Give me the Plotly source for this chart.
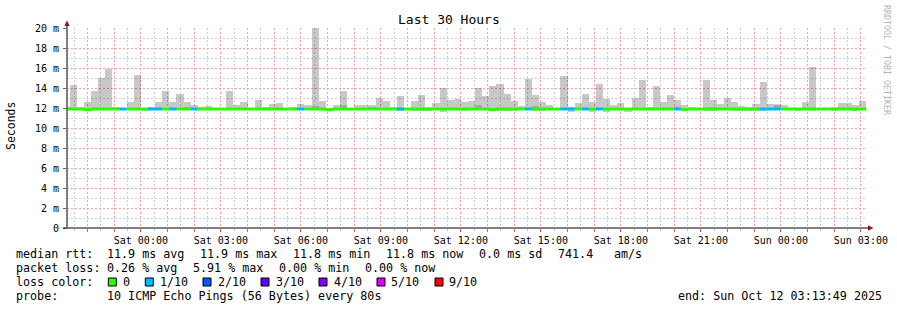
import plotly.graph_objects as go
import pandas as pd

# ---------------- data ----------------
bar_start = "2025-10-10 21:04:00"
step_minutes = 16
view_start = "2025-10-10 21:13:49"
view_end = "2025-10-12 03:13:49"

smoke_max = [12.1,
    14.33, 12.1, 12.63, 13.67, 15.03, 15.93, 12.07, 12.05, 12.57, 15.33,
    12.05, 12.13, 12.57, 13.67, 12.63, 13.43, 12.57, 12.33, 12.13, 12.23,
    12.05, 12.05, 13.73, 12.33, 12.57, 12.05, 12.77, 12.07, 12.43, 12.53,
    12.05, 12.13, 12.43, 12.3, 20.0, 12.7, 12.05, 12.3, 13.7, 12.05,
    12.3, 12.3, 12.3, 13.0, 12.7, 12.1, 13.2, 12.05, 12.7, 13.3,
    12.1, 12.5, 14.0, 12.8, 12.9, 12.6, 12.7, 14.0, 13.2, 14.2,
    14.4, 13.4, 12.7, 12.2, 14.9, 13.3, 12.6, 12.3, 12.05, 15.2,
    12.1, 12.5, 13.4, 12.6, 14.4, 12.9, 12.3, 12.5, 12.05, 13.0,
    14.8, 12.1, 14.2, 12.6, 13.3, 12.8, 12.3, 12.1, 12.05, 14.8,
    12.8, 12.4, 13.0, 12.6, 12.2, 12.1, 12.4, 14.6, 12.4, 12.3,
    12.3, 12.05, 12.05, 12.6, 16.1, 12.05, 12.05, 12.1, 12.5, 12.5,
    12.3, 12.7]

smoke_min = [11.8,
    11.8, 11.8, 11.8, 11.8, 11.8, 11.8, 11.8, 11.8, 11.8, 11.8,
    11.67, 11.8, 11.8, 11.8, 11.8, 11.8, 11.8, 11.8, 11.8, 11.8,
    11.8, 11.8, 11.8, 11.8, 11.8, 11.8, 11.8, 11.8, 11.8, 11.8,
    11.8, 11.8, 11.8, 11.8, 11.8, 11.8, 11.8, 11.8, 11.8, 11.8,
    11.8, 11.8, 11.8, 11.8, 11.8, 11.8, 11.7, 11.8, 11.7, 11.7,
    11.7, 11.8, 11.65, 11.8, 11.8, 11.7, 11.8, 11.8, 11.8, 11.7,
    11.7, 11.7, 11.7, 11.8, 11.8, 11.7, 11.7, 11.8, 11.8, 11.8,
    11.65, 11.8, 11.8, 11.65, 11.8, 11.65, 11.8, 11.8, 11.65, 11.8,
    11.8, 11.8, 11.8, 11.8, 11.8, 11.8, 11.8, 11.8, 11.8, 11.7,
    11.7, 11.8, 11.8, 11.7, 11.7, 11.7, 11.7, 11.7, 11.8, 11.8,
    11.8, 11.8, 11.67, 11.8, 11.7, 11.8, 11.8, 11.7, 11.8, 11.8,
    11.7, 11.8]

smoke_dark = [None,
    None, None, None, None, None, None, None, None, None, None,
    None, None, None, None, None, None, 12.15, None, None, None,
    None, None, None, None, None, None, None, None, None, None,
    None, None, None, None, 12.25, None, None, None, 12.3, None,
    None, None, 12.12, None, None, None, None, None, None, None,
    None, None, None, None, None, None, None, 12.3, None, None,
    None, None, None, None, None, 12.25, None, None, None, None,
    None, None, None, None, None, None, None, None, None, None,
    None, None, None, None, None, 12.1, None, None, None, None,
    12.1, None, None, None, None, None, None, None, None, 12.4,
    None, None, None, None, None, None, None, None, None, None,
    None, None]

median = [11.9] * 113
for i in (3, 37, 60, 87):
    median[i] = 11.83

loss = [0] * 113
for i in (8, 12, 13, 15, 18, 33, 47, 65, 70, 71, 73, 75, 86, 98, 99, 100):
    loss[i] = 1

loss_labels = ["0", "1/10", "2/10", "3/10", "4/10", "5/10", "9/10"]
loss_colors = ["#26ff00", "#00b8ff", "#0059ff", "#5e00ff", "#7e00ff", "#dd00ff", "#ff0000"]

y_tick_vals = list(range(0, 21, 2))
y_tick_text = ["0"] + [f"{v} m" for v in range(2, 21, 2)]

median_stats = ["11.9 ms avg", "11.9 ms max", "11.8 ms min", "11.8 ms now", "0.0 ms sd", "741.4", "am/s"]
loss_stats = ["0.26 % avg", "5.91 % max", "0.00 % min", "0.00 % now"]
probe_text = "10 ICMP Echo Pings (56 Bytes) every 80s"
end_text = "end: Sun Oct 12 03:13:49 2025"

# ---------------- build ----------------
FONT = "DejaVu Sans Mono"
n = len(smoke_max)
t_start = pd.Timestamp(bar_start)
step = pd.Timedelta(minutes=step_minutes)
starts = [t_start + step * i for i in range(n)]
centers = [s + step / 2 for s in starts]
width_ms = step_minutes * 60 * 1000

fig = go.Figure()
fig.add_trace(go.Bar(
    x=centers, base=smoke_min,
    y=[hi - lo for hi, lo in zip(smoke_max, smoke_min)],
    width=width_ms, marker=dict(color="rgba(0,0,0,0.215)", line=dict(width=0)),
    hoverinfo="skip"))

dk_x = [c for c, d in zip(centers, smoke_dark) if d is not None]
dk_b = [m for m, d in zip(median, smoke_dark) if d is not None]
dk_y = [d - m for m, d in zip(median, smoke_dark) if d is not None]
fig.add_trace(go.Bar(x=dk_x, base=dk_b, y=dk_y, width=width_ms,
                     marker=dict(color="rgba(0,0,0,0.17)", line=dict(width=0)),
                     hoverinfo="skip"))

for lvl in sorted(set(loss)):
    xs, ys = [], []
    for s, m, l in zip(starts, median, loss):
        if l == lvl:
            xs += [s, s + step, None]
            ys += [m, m, None]
    fig.add_trace(go.Scatter(x=xs, y=ys, mode="lines",
                             line=dict(color=loss_colors[lvl], width=3),
                             hoverinfo="skip"))

# hourly ticks, labels every 3h
hours = pd.date_range("2025-10-10 22:00", "2025-10-12 03:00", freq="1h")
halfs = pd.date_range("2025-10-10 21:30", "2025-10-12 03:30", freq="1h")
tick_text = [h.strftime("%a %H:%M") if h.hour % 3 == 0 else "" for h in hours]

L, T, W, H = 67, 28, 800, 200


def px(x):
    return (x - L) / W


def py(y):
    return (T + H - y) / H


fig.update_layout(
    width=897, height=310,
    margin=dict(l=L, r=897 - L - W, t=T, b=310 - T - H),
    paper_bgcolor="white", plot_bgcolor="white",
    showlegend=False, barmode="overlay", bargap=0,
    font=dict(family=FONT, color="black"),
)
fig.update_xaxes(
    type="date", range=[view_start, view_end], automargin=False,
    tickmode="array", tickvals=list(hours), ticktext=tick_text,
    tickfont=dict(family=FONT, size=10, color="#000"),
    showgrid=True, gridcolor="#f2a0a0", gridwidth=1, griddash="2px,2px",
    ticks="outside", ticklen=3, tickcolor="#e06060", tickwidth=1,
    minor=dict(tickmode="array", tickvals=list(halfs), showgrid=True,
               gridcolor="#cfcfcf", griddash="2px,2px", ticks="outside",
               ticklen=2, tickcolor="#bbbbbb"),
    showline=False, zeroline=False, fixedrange=True,
)
fig.update_yaxes(
    range=[0, 20], automargin=False,
    tickmode="array", tickvals=y_tick_vals, ticktext=y_tick_text,
    tickfont=dict(family=FONT, size=10, color="#000"),
    showgrid=True, gridcolor="#f2a0a0", gridwidth=1, griddash="2px,2px",
    ticks="outside", ticklen=3, tickcolor="#666", ticklabelstandoff=2,
    minor=dict(tickmode="array", tickvals=list(range(1, 20, 2)), showgrid=True,
               gridcolor="#cfcfcf", griddash="2px,2px"),
    showline=False, zeroline=False, fixedrange=True,
)

shapes = [
    dict(type="line", xref="paper", yref="paper", x0=px(63), x1=px(869), y0=py(228), y1=py(228),
         line=dict(color="#000", width=1), layer="above"),
    dict(type="line", xref="paper", yref="paper", x0=px(67), x1=px(67), y0=py(228), y1=py(24),
         line=dict(color="#555", width=1.5), layer="above"),
    dict(type="path", xref="paper", yref="paper", fillcolor="#8b1a1a", line=dict(width=0),
         path=f"M {px(64.3)},{py(26)} L {px(69.7)},{py(26)} L {px(67)},{py(20.5)} Z"),
    dict(type="path", xref="paper", yref="paper", fillcolor="#8b1a1a", line=dict(width=0),
         path=f"M {px(868)},{py(225.3)} L {px(868)},{py(230.7)} L {px(873.5)},{py(228)} Z"),
]

ann = []


def txt(s, x, y, size=11.7, anchor="left", color="#000", angle=0):
    ann.append(dict(text=s, x=px(x), y=py(y), xref="paper", yref="paper",
                    xanchor=anchor, yanchor="middle", showarrow=False,
                    borderpad=0, borderwidth=0, textangle=angle,
                    font=dict(family=FONT, size=size, color=color)))


txt("Last 30 Hours", 448.5, 19.5, size=13, anchor="center")
txt("Seconds", 11, 126, size=11.5, anchor="center", angle=-90)
txt("RRDTOOL / TOBI OETIKER", 887, 60, size=8.3, anchor="center", color="#b4b4b4", angle=90)

# legend lines
txt("median rtt:", 15.5, 254)
for s, x in zip(median_stats, [106.8, 199.5, 292.8, 386.2, 478.8, 557.8, 613.8]):
    txt(s, x, 254)
txt("packet loss:", 15.5, 268)
for s, x in zip(loss_stats, [106.8, 192.8, 278.8, 365.2]):
    txt(s, x, 268)
txt("loss color:", 15.5, 282)
box_x = [108.3, 145.3, 203.0, 261.0, 319.0, 377.0, 435.0]
lab_x = [122.8, 160.2, 217.8, 275.5, 333.5, 391.2, 449.3]
for lab, col, bx, lx in zip(loss_labels, loss_colors, box_x, lab_x):
    shapes.append(dict(type="rect", xref="paper", yref="paper",
                       x0=px(bx), x1=px(bx + 8), y0=py(286), y1=py(278),
                       fillcolor=col, line=dict(color="#000", width=1)))
    txt(lab, lx, 282)
txt("probe:", 15.5, 296)
txt(probe_text, 106.8, 296)
txt(end_text, 677.8, 296)

fig.update_layout(shapes=shapes, annotations=ann)
fig.write_html("out.html")
